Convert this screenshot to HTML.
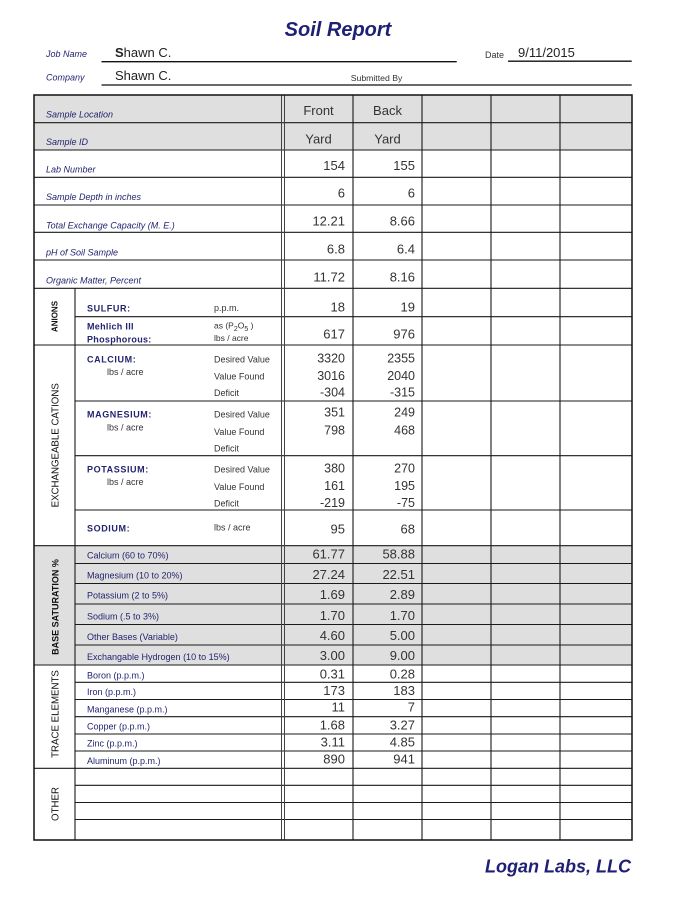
<!DOCTYPE html>
<html>
<head>
<meta charset="utf-8">
<style>
html,body{margin:0;padding:0;background:#fff;}
svg{display:block;}
text{font-family:"Liberation Sans",Arial,sans-serif;}
.lbl{font-size:9px;font-style:italic;fill:#23246f;}
.nv{font-size:9px;fill:#23246f;}
.bn{font-size:9px;font-weight:bold;fill:#23246f;letter-spacing:0.6px;}
.g{font-size:9px;fill:#333;}
.v{font-size:13px;fill:#333;text-anchor:end;}
.vs{font-size:12.5px;fill:#333;text-anchor:end;}
.c{font-size:13px;fill:#333;text-anchor:middle;}
.sec{font-size:9.7px;fill:#111;text-anchor:middle;}
.secb{font-size:9px;font-weight:bold;fill:#111;text-anchor:middle;}
</style>
</head>
<body>
<svg width="692" height="900" viewBox="0 0 692 900" xmlns="http://www.w3.org/2000/svg">
<rect width="692" height="900" fill="#fff"/>

<!-- Header -->
<text x="338" y="36" text-anchor="middle" style="font-size:20px;font-weight:bold;font-style:italic;fill:#1f1f75;">Soil Report</text>
<text x="46" y="57" class="lbl">Job Name</text>
<text x="115" y="57" style="font-size:13px;fill:#222;"><tspan font-weight="bold">S</tspan>hawn C.</text>
<line x1="101.5" y1="61.7" x2="456.7" y2="61.7" stroke="#111" stroke-width="1.3"/>
<text x="485" y="58" style="font-size:9px;fill:#333;">Date</text>
<text x="518" y="57" style="font-size:13px;fill:#222;">9/11/2015</text>
<line x1="508" y1="61.2" x2="631.7" y2="61.2" stroke="#111" stroke-width="1.3"/>
<text x="46" y="80.5" class="lbl">Company</text>
<text x="115" y="80" style="font-size:13px;fill:#222;">Shawn C.</text>
<text x="350.7" y="81" style="font-size:8.7px;fill:#333;">Submitted By</text>
<line x1="101.5" y1="85" x2="631.7" y2="85" stroke="#111" stroke-width="1.3"/>

<!-- Gray fills -->
<rect x="34" y="95" width="598" height="55" fill="#dfdfdf"/>
<rect x="34" y="545.7" width="598" height="119.3" fill="#dfdfdf"/>

<!-- Full-width horizontal lines -->
<g stroke="#1a1a1a" stroke-width="1.1">
<line x1="34" y1="122.7" x2="632" y2="122.7"/>
<line x1="34" y1="150" x2="632" y2="150"/>
<line x1="34" y1="177.3" x2="632" y2="177.3"/>
<line x1="34" y1="205" x2="632" y2="205"/>
<line x1="34" y1="232.3" x2="632" y2="232.3"/>
<line x1="34" y1="260" x2="632" y2="260"/>
<line x1="34" y1="288.3" x2="632" y2="288.3"/>
<line x1="34" y1="345" x2="632" y2="345"/>
<line x1="34" y1="545.7" x2="632" y2="545.7"/>
<line x1="34" y1="665" x2="632" y2="665"/>
<line x1="34" y1="768.3" x2="632" y2="768.3"/>
<!-- sub lines -->
<line x1="75" y1="316.7" x2="632" y2="316.7"/>
<line x1="75" y1="401" x2="632" y2="401"/>
<line x1="75" y1="455.7" x2="632" y2="455.7"/>
<line x1="75" y1="510" x2="632" y2="510"/>
<line x1="75" y1="563.5" x2="632" y2="563.5"/>
<line x1="75" y1="583.5" x2="632" y2="583.5"/>
<line x1="75" y1="604" x2="632" y2="604"/>
<line x1="75" y1="624.5" x2="632" y2="624.5"/>
<line x1="75" y1="645" x2="632" y2="645"/>
<line x1="75" y1="682.3" x2="632" y2="682.3"/>
<line x1="75" y1="699.5" x2="632" y2="699.5"/>
<line x1="75" y1="716.7" x2="632" y2="716.7"/>
<line x1="75" y1="734" x2="632" y2="734"/>
<line x1="75" y1="751" x2="632" y2="751"/>
<line x1="75" y1="785.3" x2="632" y2="785.3"/>
<line x1="75" y1="802.5" x2="632" y2="802.5"/>
<line x1="75" y1="819.5" x2="632" y2="819.5"/>
<!-- verticals -->
<line x1="75" y1="288.3" x2="75" y2="840"/>
<line x1="353" y1="95" x2="353" y2="840"/>
<line x1="422" y1="95" x2="422" y2="840"/>
<line x1="491" y1="95" x2="491" y2="840"/>
<line x1="560" y1="95" x2="560" y2="840"/>
</g>
<g stroke="#444" stroke-width="1">
<line x1="281.5" y1="95" x2="281.5" y2="840"/>
<line x1="284.5" y1="95" x2="284.5" y2="840"/>
</g>
<!-- outer border -->
<rect x="34" y="95" width="598" height="745" fill="none" stroke="#111" stroke-width="1.5"/>

<!-- Top section -->
<text x="46" y="117.7" class="lbl">Sample Location</text>
<text x="46" y="145" class="lbl">Sample ID</text>
<text x="46" y="172.7" class="lbl">Lab Number</text>
<text x="46" y="200" class="lbl">Sample Depth in inches</text>
<text x="46" y="228.3" class="lbl">Total Exchange Capacity (M. E.)</text>
<text x="46" y="255.7" class="lbl">pH of Soil Sample</text>
<text x="46" y="283.3" class="lbl">Organic Matter, Percent</text>

<text x="318.5" y="115" class="c">Front</text>
<text x="387.5" y="115" class="c">Back</text>
<text x="318.5" y="143.3" class="c">Yard</text>
<text x="387.5" y="143.3" class="c">Yard</text>
<text x="345" y="170" class="v">154</text><text x="415" y="170" class="v">155</text>
<text x="345" y="197.7" class="v">6</text><text x="415" y="197.7" class="v">6</text>
<text x="345" y="225.7" class="v">12.21</text><text x="415" y="225.7" class="v">8.66</text>
<text x="345" y="253.3" class="v">6.8</text><text x="415" y="253.3" class="v">6.4</text>
<text x="345" y="281.7" class="v">11.72</text><text x="415" y="281.7" class="v">8.16</text>

<!-- Section labels -->
<text transform="translate(57.5,316.5) rotate(-90)" class="secb" style="font-size:8px;">ANIONS</text>
<text transform="translate(58.5,445.3) rotate(-90)" class="sec">EXCHANGEABLE CATIONS</text>
<text transform="translate(58.5,607) rotate(-90)" class="secb">BASE SATURATION %</text>
<text transform="translate(58.5,714) rotate(-90)" class="sec">TRACE ELEMENTS</text>
<text transform="translate(58.5,804) rotate(-90)" class="sec">OTHER</text>

<!-- Anions -->
<text x="87" y="311.7" class="bn">SULFUR:</text>
<text x="214" y="311" class="g">p.p.m.</text>
<text x="345" y="311.7" class="v">18</text><text x="415" y="311.7" class="v">19</text>
<text x="87" y="329.3" class="bn" style="letter-spacing:0.3px;">Mehlich III</text>
<text x="87" y="342.3" class="bn" style="letter-spacing:0.3px;">Phosphorous:</text>
<text x="214" y="328.5" class="g" style="font-size:8.5px;">as (P<tspan dy="2.5" font-size="7">2</tspan><tspan dy="-2.5">O</tspan><tspan dy="2.5" font-size="7">5</tspan><tspan dy="-2.5"> )</tspan></text>
<text x="214" y="341" class="g" style="font-size:8.5px;">lbs / acre</text>
<text x="345" y="338.3" class="v">617</text><text x="415" y="338.3" class="v">976</text>

<!-- Calcium -->
<text x="87" y="362.7" class="bn">CALCIUM:</text>
<text x="107" y="375" class="g">lbs / acre</text>
<text x="214" y="362.7" class="g">Desired Value</text>
<text x="214" y="379.3" class="g">Value Found</text>
<text x="214" y="396" class="g">Deficit</text>
<text x="345" y="362.3" class="vs">3320</text><text x="415" y="362.3" class="vs">2355</text>
<text x="345" y="380" class="vs">3016</text><text x="415" y="380" class="vs">2040</text>
<text x="345" y="396.7" class="vs">-304</text><text x="415" y="396.7" class="vs">-315</text>

<!-- Magnesium -->
<text x="87" y="417.3" class="bn">MAGNESIUM:</text>
<text x="107" y="430.5" class="g">lbs / acre</text>
<text x="214" y="417.3" class="g">Desired Value</text>
<text x="214" y="435" class="g">Value Found</text>
<text x="214" y="451.7" class="g">Deficit</text>
<text x="345" y="416.7" class="vs">351</text><text x="415" y="416.7" class="vs">249</text>
<text x="345" y="434.3" class="vs">798</text><text x="415" y="434.3" class="vs">468</text>

<!-- Potassium -->
<text x="87" y="472.7" class="bn">POTASSIUM:</text>
<text x="107" y="485" class="g">lbs / acre</text>
<text x="214" y="472.3" class="g">Desired Value</text>
<text x="214" y="490" class="g">Value Found</text>
<text x="214" y="506.7" class="g">Deficit</text>
<text x="345" y="472.3" class="vs">380</text><text x="415" y="472.3" class="vs">270</text>
<text x="345" y="490" class="vs">161</text><text x="415" y="490" class="vs">195</text>
<text x="345" y="507" class="vs">-219</text><text x="415" y="507" class="vs">-75</text>

<!-- Sodium -->
<text x="87" y="531.7" class="bn">SODIUM:</text>
<text x="214" y="530.7" class="g">lbs / acre</text>
<text x="345" y="533.3" class="v">95</text><text x="415" y="533.3" class="v">68</text>

<!-- Base saturation -->
<text x="87" y="558.3" class="nv">Calcium (60 to 70%)</text>
<text x="87" y="578.5" class="nv">Magnesium (10 to 20%)</text>
<text x="87" y="598.5" class="nv">Potassium (2 to 5%)</text>
<text x="87" y="619.5" class="nv">Sodium (.5 to 3%)</text>
<text x="87" y="640" class="nv">Other Bases (Variable)</text>
<text x="87" y="660" class="nv">Exchangable Hydrogen (10 to 15%)</text>
<text x="345" y="558.3" class="v">61.77</text><text x="415" y="558.3" class="v">58.88</text>
<text x="345" y="579" class="v">27.24</text><text x="415" y="579" class="v">22.51</text>
<text x="345" y="599" class="v">1.69</text><text x="415" y="599" class="v">2.89</text>
<text x="345" y="620" class="v">1.70</text><text x="415" y="620" class="v">1.70</text>
<text x="345" y="640" class="v">4.60</text><text x="415" y="640" class="v">5.00</text>
<text x="345" y="660" class="v">3.00</text><text x="415" y="660" class="v">9.00</text>

<!-- Trace elements -->
<text x="87" y="678.3" class="nv">Boron (p.p.m.)</text>
<text x="87" y="695" class="nv">Iron (p.p.m.)</text>
<text x="87" y="712.3" class="nv">Manganese (p.p.m.)</text>
<text x="87" y="729.3" class="nv">Copper (p.p.m.)</text>
<text x="87" y="746.7" class="nv">Zinc (p.p.m.)</text>
<text x="87" y="764" class="nv">Aluminum (p.p.m.)</text>
<text x="345" y="678.3" class="v">0.31</text><text x="415" y="678.3" class="v">0.28</text>
<text x="345" y="695" class="v">173</text><text x="415" y="695" class="v">183</text>
<text x="345" y="711.7" class="v">11</text><text x="415" y="711.7" class="v">7</text>
<text x="345" y="729.3" class="v">1.68</text><text x="415" y="729.3" class="v">3.27</text>
<text x="345" y="746.7" class="v">3.11</text><text x="415" y="746.7" class="v">4.85</text>
<text x="345" y="763.3" class="v">890</text><text x="415" y="763.3" class="v">941</text>

<!-- Footer -->
<text x="631" y="872.3" text-anchor="end" style="font-size:18px;font-weight:bold;font-style:italic;fill:#1f1f75;">Logan Labs, LLC</text>
</svg>
</body>
</html>
